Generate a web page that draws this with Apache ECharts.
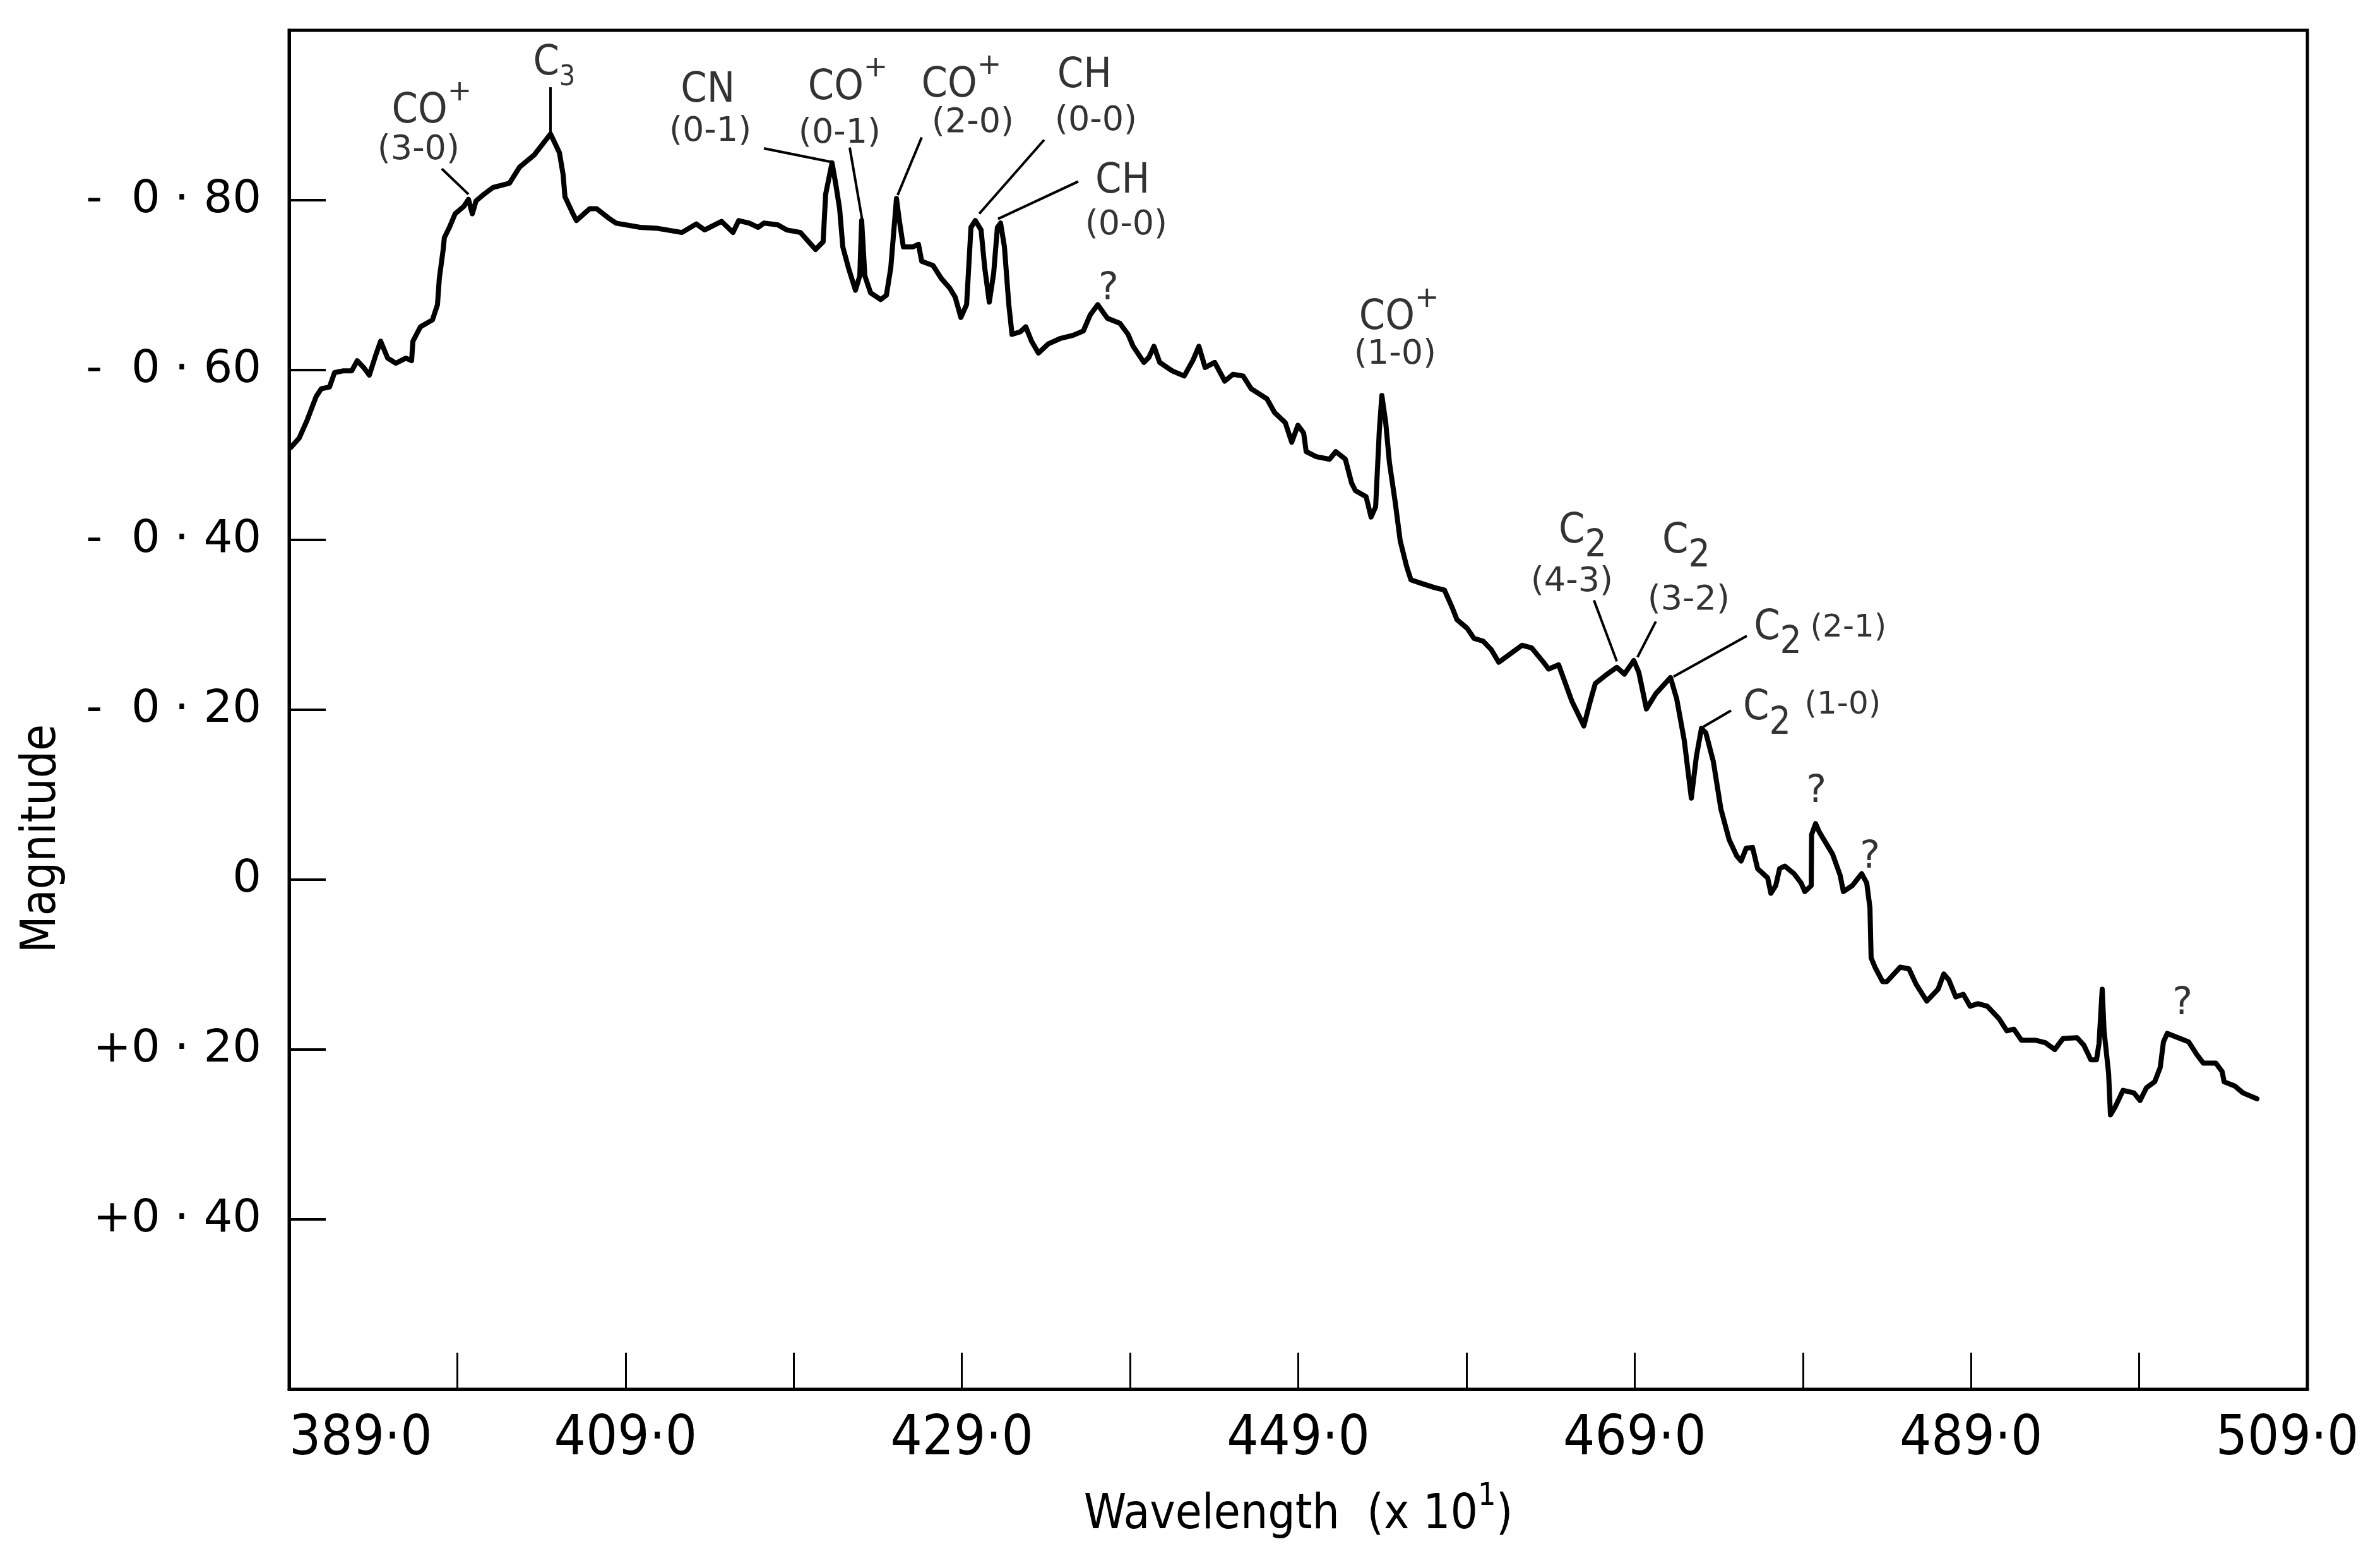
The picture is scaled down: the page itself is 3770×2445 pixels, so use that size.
<!DOCTYPE html>
<html>
<head>
<meta charset="utf-8">
<script src="https://cdn.jsdelivr.net/npm/echarts/dist/echarts.min.js"></script>
<style>html,body{margin:0;padding:0;background:#fff}#c{width:3770px;height:2445px}</style>
</head>
<body>
<div id="c"></div>
<script>
// Spectrum: wavelength (x10^1) vs magnitude
const wavelength = [
389.11,389.60,390.05,390.61,390.91,391.40,391.70,392.19,392.72,393.05,
393.43,393.77,394.14,394.44,394.86,395.34,395.94,396.28,396.36,396.81,
397.52,397.82,397.93,398.16,398.23,398.53,398.87,399.40,399.66,399.89,
400.11,400.52,401.12,402.10,402.70,403.56,404.54,405.07,405.29,405.40,
405.85,406.08,406.42,406.87,407.28,407.99,408.44,409.87,410.85,412.35,
413.21,413.70,414.71,415.39,415.73,416.36,416.89,417.23,418.05,418.58,
419.40,419.89,420.30,420.75,420.90,421.28,421.50,421.73,421.92,422.26,
422.67,422.93,423.04,423.23,423.57,424.17,424.51,424.77,424.92,425.11,
425.26,425.52,426.09,426.42,426.61,427.29,427.77,428.26,428.60,428.94,
429.28,429.54,429.80,430.14,430.36,430.63,430.89,431.11,431.30,431.53,
431.79,431.98,432.47,432.80,433.14,433.55,434.15,434.83,435.62,436.22,
436.63,437.08,437.65,438.40,438.88,439.18,439.82,440.12,440.42,440.76,
441.51,442.22,442.75,443.09,443.46,444.03,444.63,445.12,445.72,446.20,
447.14,447.59,448.23,448.61,448.98,449.32,449.47,450.07,450.86,451.23,
451.80,452.17,452.40,453.03,453.33,453.60,453.82,453.97,454.20,454.42,
454.76,455.06,455.44,455.70,456.30,457.09,457.69,458.14,458.44,459.04,
459.45,459.98,460.47,460.92,461.55,462.31,462.87,463.58,463.88,464.48,
465.27,465.98,466.36,466.66,467.30,467.94,468.39,468.95,469.25,469.70,
470.26,471.13,471.50,471.95,472.37,472.67,472.97,473.23,473.68,474.13,
474.62,475.07,475.33,475.63,476.01,476.31,476.91,477.10,477.39,477.62,
477.92,478.48,478.90,479.12,479.50,479.52,479.76,479.98,480.77,481.22,
481.41,481.94,482.50,482.80,482.99,483.06,483.29,483.74,484.00,484.79,
485.31,485.73,486.37,487.04,487.38,487.68,488.09,488.54,488.95,489.41,
489.97,490.68,491.13,491.55,492.00,492.82,493.42,493.98,494.47,495.30,
495.71,496.12,496.46,496.61,496.80,496.91,497.18,497.29,497.56,498.04,
498.68,499.05,499.43,499.92,500.25,500.44,500.67,501.31,501.94,502.43,
502.81,503.56,503.93,504.05,504.69,505.17,506.00
];
const magnitude = [
-0.509,-0.520,-0.540,-0.569,-0.578,-0.580,-0.597,-0.599,-0.599,-0.611,
-0.603,-0.594,-0.617,-0.634,-0.614,-0.608,-0.614,-0.611,-0.634,-0.651,
-0.659,-0.677,-0.708,-0.742,-0.756,-0.768,-0.784,-0.793,-0.801,-0.784,
-0.799,-0.806,-0.815,-0.820,-0.839,-0.853,-0.878,-0.856,-0.830,-0.804,
-0.785,-0.776,-0.782,-0.790,-0.790,-0.779,-0.773,-0.768,-0.767,-0.762,
-0.772,-0.765,-0.775,-0.762,-0.776,-0.773,-0.768,-0.773,-0.771,-0.765,
-0.762,-0.751,-0.742,-0.751,-0.807,-0.844,-0.819,-0.790,-0.745,-0.720,
-0.694,-0.711,-0.776,-0.711,-0.691,-0.683,-0.688,-0.720,-0.756,-0.802,
-0.779,-0.745,-0.745,-0.748,-0.728,-0.723,-0.708,-0.697,-0.686,-0.662,
-0.677,-0.768,-0.776,-0.765,-0.720,-0.680,-0.714,-0.768,-0.773,-0.745,
-0.677,-0.642,-0.645,-0.651,-0.634,-0.620,-0.631,-0.637,-0.641,-0.646,
-0.665,-0.677,-0.661,-0.655,-0.642,-0.628,-0.609,-0.615,-0.628,-0.609,
-0.599,-0.593,-0.612,-0.628,-0.603,-0.609,-0.587,-0.595,-0.593,-0.578,
-0.566,-0.550,-0.538,-0.515,-0.535,-0.526,-0.504,-0.498,-0.495,-0.504,
-0.495,-0.467,-0.458,-0.451,-0.427,-0.439,-0.529,-0.570,-0.538,-0.491,
-0.445,-0.399,-0.369,-0.353,-0.349,-0.344,-0.341,-0.321,-0.306,-0.296,
-0.284,-0.281,-0.271,-0.256,-0.265,-0.276,-0.273,-0.256,-0.248,-0.253,
-0.210,-0.181,-0.210,-0.231,-0.241,-0.250,-0.242,-0.258,-0.244,-0.201,
-0.219,-0.238,-0.213,-0.164,-0.096,-0.145,-0.178,-0.173,-0.139,-0.083,
-0.047,-0.028,-0.022,-0.037,-0.038,-0.013,-0.002,0.016,0.007,-0.013,
-0.016,-0.007,0.004,0.014,0.007,-0.053,-0.066,-0.056,-0.030,-0.005,
0.014,0.007,-0.007,0.004,0.033,0.092,0.103,0.120,0.120,0.103,
0.105,0.123,0.143,0.129,0.111,0.118,0.138,0.135,0.149,0.146,
0.149,0.164,0.178,0.176,0.189,0.189,0.192,0.200,0.187,0.186,
0.195,0.212,0.212,0.193,0.129,0.178,0.228,0.277,0.268,0.248,
0.251,0.260,0.245,0.238,0.221,0.191,0.181,0.186,0.191,0.206,
0.216,0.216,0.226,0.238,0.243,0.251,0.258
];

// Tick labels
const xTickValues = [389, 409, 429, 449, 469, 489, 509];
const xTickLabels = ['389·0', '409·0', '429·0', '449·0', '469·0', '489·0', '509·0'];
const yTickValues = [-0.8, -0.6, -0.4, -0.2, 0, 0.2, 0.4];
const yTickLabels = ['-  0 · 80', '-  0 · 60', '-  0 · 40', '-  0 · 20', '0', '+0 · 20', '+0 · 40'];

// Band annotations (anchor in data units)
const noteText = [
  '{b|CO}{p|+}', '{s|(3-0)}', '{b|C}{l|3}',
  '{b|CN}', '{s|(0-1)}',
  '{b|CO}{p|+}', '{s|(0-1)}',
  '{b|CO}{p|+}', '{s|(2-0)}',
  '{b|CH}', '{s|(0-0)}',
  '{b|CH}', '{s|(0-0)}',
  '{q|?}',
  '{b|CO}{p|+}', '{s|(1-0)}',
  '{b|C}{d|2}', '{s|(4-3)}',
  '{b|C}{d|2}', '{s|(3-2)}',
  '{b|C}{d|2}', '{t|(2-1)}',
  '{b|C}{d|2}', '{t|(1-0)}',
  '{q|?}', '{q|?}', '{q|?}'
];
const noteLambda = [
  397.48, 396.69, 404.76,
  413.89, 414.04,
  422.22, 421.73,
  428.97, 429.65,
  436.29, 436.97,
  438.55, 438.77,
  437.72,
  454.99, 454.76,
  465.91, 465.27,
  472.06, 472.21,
  477.51, 481.71,
  476.87, 481.37,
  479.80, 482.99, 501.57
];
const noteMag = [
  -0.904, -0.859, -0.961,
  -0.929, -0.880,
  -0.932, -0.878,
  -0.935, -0.891,
  -0.946, -0.893,
  -0.822, -0.770,
  -0.695,
  -0.661, -0.618,
  -0.410, -0.350,
  -0.398, -0.329,
  -0.296, -0.296,
  -0.2015, -0.205,
  -0.103, -0.026, 0.147
];
// Leader lines from label to feature
const leaderFrom = [
  [398.08, -0.837], [404.54, -0.933], [417.23, -0.861], [422.33, -0.862],
  [426.61, -0.874], [433.89, -0.871], [435.92, -0.822], [466.58, -0.329],
  [470.26, -0.304], [475.67, -0.287], [474.73, -0.199]
];
const leaderTo = [
  [399.66, -0.807], [404.54, -0.878], [421.24, -0.845], [423.08, -0.776],
  [425.18, -0.806], [430.03, -0.784], [431.15, -0.778], [467.94, -0.257],
  [469.17, -0.262], [471.31, -0.239], [473.08, -0.180]
];

const FC = '"DejaVu Sans Condensed", "DejaVu Sans", sans-serif';
const FN = '"DejaVu Sans", sans-serif';

const chart = echarts.init(document.getElementById('c'), null, {renderer: 'canvas'});
chart.setOption({
  animation: false,
  backgroundColor: '#ffffff',
  grid: {
    left: 458, right: 115, top: 48, bottom: 245,
    show: true, borderColor: '#000', borderWidth: 5, backgroundColor: 'transparent',
    containLabel: false, outerBoundsMode: 'none'
  },
  xAxis: {
    type: 'value', min: 389, max: 509, interval: 10,
    name: '{a|Wavelength  (x 10}{u|1}{a|)}',
    nameLocation: 'middle', nameGap: 145,
    nameTextStyle: {
      color: '#000', fontFamily: FC, fontSize: 76,
      rich: {
        a: {fontFamily: FC, fontSize: 76, color: '#000'},
        u: {fontFamily: FC, fontSize: 50, color: '#000', padding: [0, 0, 60, 0]}
      }
    },
    axisLine: {show: true, onZero: false, lineStyle: {color: '#000', width: 5}},
    axisTick: {show: true, inside: true, length: 58, lineStyle: {color: '#000', width: 3}},
    splitLine: {show: false},
    axisLabel: {
      show: true, margin: 36, color: '#000', fontFamily: FC, fontSize: 88,
      showMinLabel: true, showMaxLabel: true, alignMinLabel: 'left',
      rich: {
        e: {fontFamily: FC, fontSize: 88, color: '#000', padding: [0, 64, 0, 0]}
      },
      formatter: function (v) {
        const i = xTickValues.indexOf(Math.round(v));
        if (i < 0) return '';
        return i === xTickValues.length - 1 ? '{e|' + xTickLabels[i] + '}' : xTickLabels[i];
      }
    }
  },
  yAxis: {
    type: 'value', inverse: true, min: -1.0, max: 0.6, interval: 0.2,
    axisLine: {show: true, onZero: false, lineStyle: {color: '#000', width: 5}},
    axisTick: {show: true, inside: true, length: 58, lineStyle: {color: '#000', width: 4}},
    splitLine: {show: false},
    axisLabel: {
      show: true, margin: 44, color: '#000', fontFamily: FN, fontSize: 72,
      showMinLabel: true, showMaxLabel: true,
      formatter: function (v) {
        const i = yTickValues.findIndex(function (t) { return Math.abs(t - v) < 1e-6; });
        return i >= 0 ? yTickLabels[i] : '';
      }
    }
  },
  graphic: [{
    type: 'text', x: 67, y: 1328, rotation: Math.PI / 2, silent: true,
    style: {
      text: 'Magnitude', fill: '#000', font: '76px ' + FC,
      textAlign: 'center', textVerticalAlign: 'middle', align: 'center', verticalAlign: 'middle'
    }
  }],
  series: [
    {
      type: 'line', name: 'Spectrum',
      data: wavelength.map(function (w, i) { return [w, magnitude[i]]; }),
      showSymbol: false, symbol: 'none', smooth: false, silent: true, z: 3,
      lineStyle: {color: '#000', width: 8, join: 'round', cap: 'round'},
      itemStyle: {color: '#000'},
      markLine: {
        silent: true, animation: false, symbol: ['none', 'none'],
        label: {show: false},
        lineStyle: {color: '#000', width: 4, type: 'solid'},
        emphasis: {disabled: true},
        data: leaderFrom.map(function (a, i) { return [{coord: a}, {coord: leaderTo[i]}]; })
      }
    },
    {
      type: 'scatter', name: 'Bands', silent: true, z: 4,
      symbolSize: 1, itemStyle: {color: 'transparent'},
      data: noteText.map(function (t, i) { return {value: [noteLambda[i], noteMag[i]], name: t}; }),
      label: {
        show: true, position: 'inside', color: '#000',
        formatter: function (p) { return p.name; },
        rich: {
          b: {fontFamily: FC, fontSize: 66, color: '#000'},
          p: {fontFamily: FN, fontSize: 46, color: '#000', padding: [0, 0, 60, 0]},
          l: {fontFamily: FC, fontSize: 44, color: '#000', padding: [46, 0, 0, 0]},
          d: {fontFamily: FC, fontSize: 60, color: '#000', padding: [48, 0, 0, 0]},
          s: {fontFamily: FN, fontSize: 54, color: '#000'},
          t: {fontFamily: FN, fontSize: 50, color: '#000'},
          q: {fontFamily: FN, fontSize: 60, color: '#000'}
        }
      }
    }
  ]
});
</script>
</body>
</html>
